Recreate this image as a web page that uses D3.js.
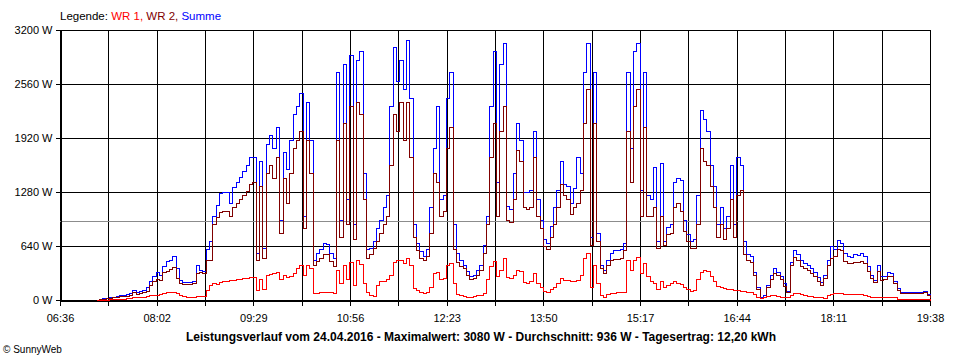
<!DOCTYPE html>
<html><head><meta charset="utf-8">
<script src="https://cdn.jsdelivr.net/npm/d3@7"></script>
<style>body{margin:0;background:#fff}svg{display:block}</style>
</head><body>
<svg id="c" width="960" height="360"></svg>
<script>
// sampling grid of the measurements
const dayStart = "06:36", dayEnd = "19:38";
const sampleStart = "07:08", sampleStep = 3; // minutes

const summe = [5,15,20,25,30,40,50,55,60,70,80,120,90,110,120,150,220,280,330,300,
400,460,480,520,380,240,210,210,210,230,410,360,340,600,700,1000,1130,1270,1280,1280,
1150,1340,1400,1460,1530,1600,1690,1700,560,1650,620,1850,1950,1800,2050,950,1750,1550,1900,2200,
2300,2450,1000,2350,1900,480,560,600,680,660,560,500,2700,950,2800,1200,2900,900,2850,2950,
1500,600,620,700,850,950,1100,1250,2300,3000,2600,2850,2500,3080,2400,900,680,580,520,600,
1100,1800,2300,1200,1250,2400,2700,900,560,470,420,340,290,300,350,420,650,1000,2300,2950,
1400,2800,3050,1120,1080,1500,2100,1900,1280,1280,1300,2000,1200,950,720,680,880,1100,1300,1650,
1380,1350,1150,1330,1700,1500,2700,3050,750,2700,800,420,360,470,560,590,590,600,680,2700,
1800,2950,3050,1300,2700,1250,1200,1580,700,1620,700,860,900,1400,1450,1420,950,780,700,720,
1250,2250,2150,2000,1600,1350,900,1100,850,1000,1600,900,1700,1600,700,540,520,330,150,40,
60,180,300,380,330,280,200,110,450,590,540,470,440,420,380,330,270,210,300,480,
640,600,710,680,560,520,510,540,530,560,520,400,300,240,410,280,280,330,320,230,
140,100,95,95,95,95,100,100,110,70,40];

const wr2 = [5,12,15,18,22,30,38,42,45,52,60,90,70,85,90,110,180,220,250,240,
330,340,370,390,260,200,190,190,190,200,320,330,320,480,470,900,980,1040,1050,1060,
1000,1100,1150,1200,1250,1290,1380,1400,470,1350,500,1500,1600,1450,1700,790,1450,1150,1500,1800,
1900,2000,850,1900,1500,420,460,500,550,540,460,400,1900,750,2100,900,2300,720,2350,2200,
1200,500,540,620,700,800,900,1000,1600,2200,2000,2350,1900,2350,1700,750,590,500,470,520,
800,1500,1400,1000,1050,1800,2050,600,450,400,380,300,250,260,300,360,560,900,1700,2100,
1000,2000,2300,950,930,1200,1780,1650,1100,1080,1100,1700,1000,850,640,600,750,900,1100,1380,
1250,1200,1020,1100,1150,1300,2100,2500,650,2100,700,380,320,410,470,490,490,500,590,2000,
1400,2300,2500,1000,2050,1000,1000,1100,620,1000,650,780,800,1100,1150,1050,820,700,620,620,
900,1800,1650,1600,1350,1100,750,900,720,850,1200,750,1250,1300,550,470,450,300,130,25,
40,150,250,320,300,250,170,90,420,510,480,400,380,360,320,290,230,180,260,420,
500,520,600,590,460,440,440,450,450,460,440,340,260,210,340,240,250,290,280,200,
120,85,80,80,80,80,85,85,90,60,30];

const wr1 = [0,2,3,5,8,10,12,14,15,18,20,30,30,35,40,50,55,60,60,70,
80,90,95,95,80,60,45,40,40,40,45,45,45,120,180,200,190,210,220,230,
240,240,250,250,260,260,270,275,120,250,130,300,310,320,330,250,300,270,290,320,
380,420,300,420,380,80,85,90,90,95,90,80,350,200,420,250,450,180,470,430,
200,90,60,50,180,220,230,250,300,450,470,480,440,500,420,140,120,90,80,100,
160,320,330,250,260,420,440,200,70,60,50,40,35,45,55,65,85,250,400,460,
280,350,500,270,260,300,360,340,210,200,220,320,200,160,110,95,130,160,200,260,
240,240,220,230,240,300,500,560,160,420,200,60,40,70,80,85,90,90,100,470,
350,480,510,320,440,280,230,200,130,220,160,180,200,220,200,190,150,130,110,120,
250,330,350,340,280,220,170,150,140,130,130,120,115,110,110,100,90,70,40,20,
35,45,60,55,45,40,35,30,60,80,80,70,55,50,45,40,40,35,20,60,
70,80,85,85,75,70,70,70,70,70,60,45,40,35,35,35,35,35,35,30,
15,10,10,10,10,10,10,10,10,8,5];

const xTickLabels = ["06:36","08:02","09:29","10:56","12:23","13:50","15:17","16:44","18:11","19:38"];
const yTicks = [0,640,1280,1920,2560,3200];
const average = 936;
const legend = [{t:"Legende: ", c:"#000000"},{t:"WR 1, ", c:"#ff0000"},{t:"WR 2, ", c:"#800000"},{t:"Summe", c:"#0000ff"}];
const title = "Leistungsverlauf vom 24.04.2016 - Maximalwert: 3080 W - Durchschnitt: 936 W - Tagesertrag: 12,20 kWh";
const credit = "\u00A9 SunnyWeb";

const toMin = s => { const [h,m] = s.split(":").map(Number); return h*60+m; };
const t0 = toMin(dayStart), t1 = toMin(dayEnd), ts = toMin(sampleStart);
const times = summe.map((_,i) => ts + i*sampleStep);

const svg = d3.select("#c");
const L = 60, R = 930, T = 30, B = 300;
const x = d3.scaleLinear().domain([t0, t1]).range([L, R]);
const y = d3.scaleLinear().domain([0, 3200]).range([B, T]);
const font = "'Liberation Sans', Arial, sans-serif";

const gridTimes = d3.range(19).map(k => t0 + k*(t1-t0)/18);

const g = svg.append("g").attr("shape-rendering","crispEdges");
g.selectAll(".hg").data(yTicks).join("line")
  .attr("x1", L).attr("x2", R).attr("y1", d=>Math.round(y(d))+0.5).attr("y2", d=>Math.round(y(d))+0.5)
  .attr("stroke","#000").attr("stroke-width",1);
g.selectAll(".vg").data(gridTimes).join("line")
  .attr("x1", d=>Math.round(x(d))+0.5).attr("x2", d=>Math.round(x(d))+0.5).attr("y1", T).attr("y2", B)
  .attr("stroke","#000").attr("stroke-width",1);
g.append("line").attr("x1",L).attr("x2",R)
  .attr("y1",Math.round(y(average))+0.5).attr("y2",Math.round(y(average))+0.5)
  .attr("stroke","#8c8c8c").attr("stroke-width",1);

const ax = svg.append("g").attr("transform",`translate(0,${Math.round(y(0))+0.5})`)
  .call(d3.axisBottom(x).tickValues(gridTimes).tickSizeInner(5).tickSizeOuter(0).tickPadding(9)
    .tickFormat((d,i)=> i%2===0 ? xTickLabels[i/2] : ""));
const ay = svg.append("g").attr("transform",`translate(${L+0.5},0)`)
  .call(d3.axisLeft(y).tickValues(yTicks).tickSizeInner(5).tickSizeOuter(0).tickPadding(3)
    .tickFormat(d=> d + " W"));
[ax, ay].forEach(a => {
  a.attr("shape-rendering","crispEdges");
  a.selectAll("path,line").attr("stroke","#000");
  a.selectAll("text").attr("fill","#000").style("font-family",font).style("font-size","11px");
});

const line = vals => d3.line().curve(d3.curveStepAfter)
  .x((d,i)=> Math.round(x(times[i]))+0.5).y(d=> Math.round(y(d))+0.5)(vals);
const lg = svg.append("g").attr("fill","none").attr("stroke-width",1).attr("shape-rendering","crispEdges");
lg.append("path").attr("d", line(summe)).attr("stroke","#0000ff");
lg.append("path").attr("d", line(wr2)).attr("stroke","#800000");
lg.append("path").attr("d", line(wr1)).attr("stroke","#ff0000");

const lt = svg.append("text").attr("x",60).attr("y",20).attr("xml:space","preserve")
  .style("font-family",font).style("font-size","11.5px");
lt.selectAll("tspan").data(legend).join("tspan").attr("fill",d=>d.c).text(d=>d.t);

svg.append("text").attr("x",481).attr("y",341).attr("text-anchor","middle")
  .style("font-family",font).style("font-size","12px").style("font-weight","bold")
  .text(title);
svg.append("text").attr("x",3).attr("y",353)
  .style("font-family",font).style("font-size","10px").text(credit);
</script>
</body></html>
